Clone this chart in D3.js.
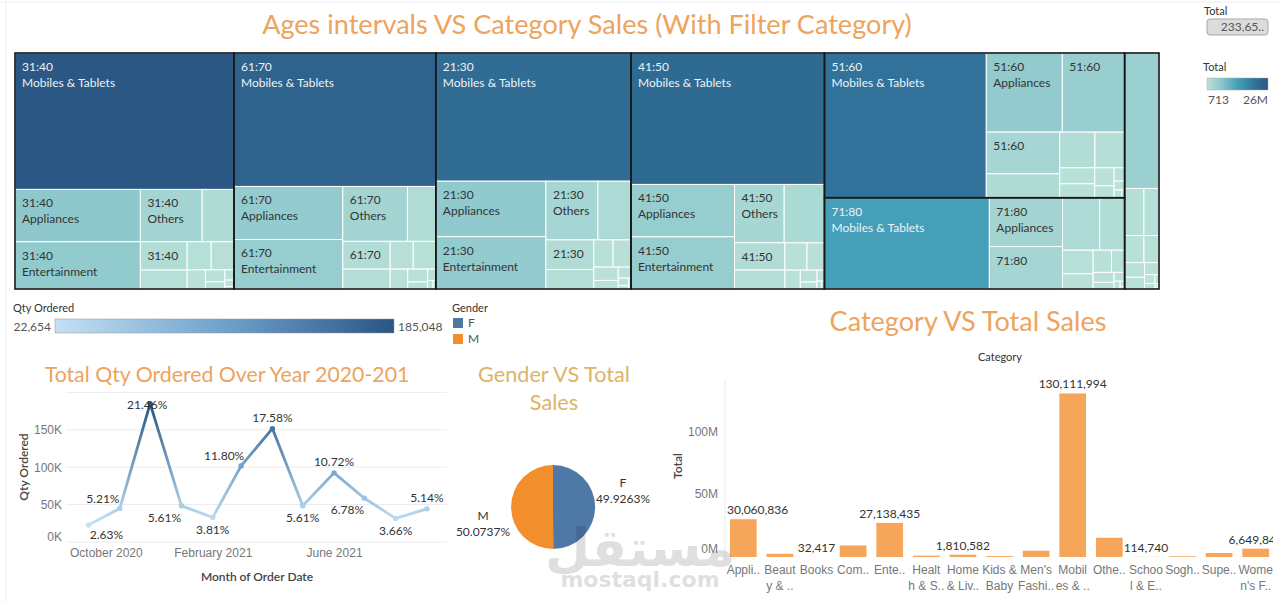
<!DOCTYPE html>
<html>
<head>
<meta charset="utf-8">
<title>Sales dashboard</title>
<script src="https://cdn.jsdelivr.net/npm/d3@7"></script>
<style>
  body { margin: 0; background: #fff; }
  svg { display: block; font-family: Lato, 'Open Sans', sans-serif; }
</style>
</head>
<body>
<svg id="dash" width="1280" height="602"></svg>
<script>
// ---- data ----
const categories = ['Appliances', 'Beauty & Grooming', 'Books', 'Computing', 'Entertainment',
  'Health & Sports', 'Home & Living', 'Kids & Baby', "Men's Fashion", 'Mobiles & Tablets',
  'Others', 'School & Education', 'Soghaat', 'Superstore', "Women's Fashion"];

const ageGroups = ['31:40', '61:70', '21:30', '41:50', '51:60', '71:80', '11:20'];

// treemap sales per age group (millions), same order as categories
const sales3140 = [5.64, 0.55, 0.02, 1.43, 5.09, 0.20, 0.30, 0.12, 0.76, 25.67, 2.78, 0.05, 0.08, 0.58, 1.14];
const sales6170 = [4.96, 0.54, 0.02, 1.34, 4.63, 0.22, 0.30, 0.12, 0.81, 23.15, 3.05, 0.04, 0.08, 0.55, 1.13];
const sales2130 = [5.25, 0.42, 0.02, 1.67, 4.95, 0.18, 0.28, 0.12, 0.80, 21.50, 2.62, 0.03, 0.07, 0.45, 1.22];
const sales4150 = [4.66, 0.41, 0.02, 2.02, 4.64, 0.17, 0.25, 0.10, 0.82, 21.85, 2.49, 0.03, 0.07, 0.52, 1.18];
const sales5160 = [5.17, 0.42, 0.02, 1.51, 4.24, 0.20, 0.30, 0.12, 0.91, 20.13, 2.63, 0.05, 0.08, 0.48, 1.08];
const sales7180 = [3.07, 0.25, 0.01, 1.13, 2.67, 0.12, 0.18, 0.08, 0.40, 12.93, 1.67, 0.02, 0.04, 0.35, 0.62];
const sales1120 = [0.78, 0.08, 0.000713, 0.35, 0.61, 0.03, 0.05, 0.01, 0.20, 4.00, 0.45, 0.005, 0.003, 0.15, 0.25];
const ageSales = [sales3140, sales6170, sales2130, sales4150, sales5160, sales7180, sales1120];

// monthly qty ordered
const months = ['2020-10', '2020-11', '2020-12', '2021-01', '2021-02', '2021-03',
  '2021-04', '2021-05', '2021-06', '2021-07', '2021-08', '2021-09'];
const qtyOrdered = [22654, 44926, 185048, 48375, 32854, 101751, 151592, 48375, 92438, 58464, 31560, 44322];
const qtyLabelSpot = ['br', 'tl', 'c', 'bl', 'b', 'tl', 't', 'b', 't', 'bl', 'b', 't'];
const monthTicks = ['2020-10', '2021-02', '2021-06'];

// gender split
const genders = ['F', 'M'];
const genderSales = [116652800, 116997200];

// category totals
const categoryTotals = [30060836, 2600000, 32417, 9200000, 27138435, 1060000, 1810582, 750000,
  5000000, 130111994, 15330000, 114740, 600000, 3200000, 6649842];
const categoryTicks = [['Appli..'], ['Beaut', 'y & ..'], ['Books'], ['Com..'], ['Ente..'],
  ['Healt', 'h & S..'], ['Home', '& Liv..'], ['Kids &', 'Baby'], ["Men's", 'Fashi..'],
  ['Mobil', 'es & ..'], ['Othe..'], ['Schoo', 'l & E..'], ['Sogh..'], ['Supe..'], ['Wome', "n's F.."]];
const labelledBars = ['Appliances', 'Books', 'Entertainment', 'Home & Living',
  'Mobiles & Tablets', 'School & Education', "Women's Fashion"];

// ---- colours ----
const titleOrange = '#eea35e';
const titleGold = '#dcb468';
const treeColors = ['#bbe2d8', '#8ec8cd', '#45a0b8', '#32739a', '#2a5783'];
const treeStops = [0, 0.22, 0.5, 0.78, 1];
const qtyColors = ['#c4e1f3', '#6fa1cb', '#2b5583'];
const genderColors = ['#4e79a7', '#f28e2b'];
const barColor = '#f5a65b';

const svg = d3.select('#dash');
const defs = svg.append('defs');

const measurer = svg.append('text').attr('font-size', 12).attr('visibility', 'hidden');
function textWidth(s) {
  measurer.text(s);
  return measurer.node().getComputedTextLength();
}

function addText(g, txt, x, y, opts = {}) {
  return g.append('text')
    .attr('x', x).attr('y', y)
    .attr('font-size', opts.size || 12)
    .attr('fill', opts.color || '#333')
    .attr('text-anchor', opts.anchor || 'start')
    .attr('font-weight', opts.weight || 400)
    .text(txt);
}

// centred title scaled to a given width, returns the font size used
function addTitle(txt, cx, y, width, color, size) {
  const t = addText(svg, txt, cx, y, { size: 20, color, anchor: 'middle' });
  const fs = size || 20 * width / t.node().getComputedTextLength();
  t.attr('font-size', fs);
  return fs;
}

// ================= treemap =================
addTitle('Ages intervals VS Category Sales (With Filter Category)', 587, 34, 650, titleOrange);

const tm = { left: 15, top: 53, width: 1144, height: 236 };

const root = d3.hierarchy({
  children: ageGroups.map((age, i) => ({
    age,
    children: categories.map((cat, j) => ({ age, cat, value: ageSales[i][j] }))
  }))
})
  .sum(d => d.value || 0)
  .sort((a, b) => b.value - a.value);

d3.treemap().size([tm.width, tm.height]).tile(d3.treemapSquarify)(root);

const leafValues = root.leaves().map(d => d.value);
const [tMin, tMax] = d3.extent(leafValues);
const treeColor = d3.scaleLinear()
  .domain(treeStops.map(t => tMin + t * (tMax - tMin)))
  .range(treeColors);

const tg = svg.append('g').attr('transform', `translate(${tm.left},${tm.top})`);

tg.selectAll('rect.cell')
  .data(root.leaves())
  .join('rect')
  .attr('class', 'cell')
  .attr('x', d => d.x0)
  .attr('y', d => d.y0)
  .attr('width', d => d.x1 - d.x0)
  .attr('height', d => d.y1 - d.y0)
  .attr('fill', d => treeColor(d.value))
  .attr('stroke', '#fff')
  .attr('stroke-width', 1);

tg.selectAll('rect.group')
  .data(root.children)
  .join('rect')
  .attr('class', 'group')
  .attr('x', d => d.x0)
  .attr('y', d => d.y0)
  .attr('width', d => d.x1 - d.x0)
  .attr('height', d => d.y1 - d.y0)
  .attr('fill', 'none')
  .attr('stroke', '#161616')
  .attr('stroke-width', 1.6);

// cell labels, only where they fit
root.leaves().forEach(d => {
  const w = d.x1 - d.x0, h = d.y1 - d.y0;
  if (h < 26 || textWidth(d.data.age) + 14 > w) return;
  const lines = [d.data.age];
  if (h >= 46 && textWidth(d.data.cat) + 10 <= w) lines.push(d.data.cat);
  const col = d.value > 10 ? '#edf2f6' : '#333';
  lines.forEach((ln, k) => {
    addText(tg, ln, d.x0 + 7, d.y0 + 18 + k * 16, { size: 12, color: col });
  });
});

// top-right filter + colour legend
const totalSales = d3.sum(categoryTotals);
addText(svg, 'Total', 1204, 15, { size: 11 });
svg.append('rect')
  .attr('x', 1207).attr('y', 19).attr('width', 61).attr('height', 16).attr('rx', 3)
  .attr('fill', '#dcdcdc').attr('stroke', '#a8a8a8');
addText(svg, d3.format(',')(totalSales).slice(0, 6) + '..', 1264, 31,
  { size: 12, color: '#555', anchor: 'end' });

const tGrad = defs.append('linearGradient').attr('id', 'treeGrad');
treeStops.forEach((t, i) => {
  tGrad.append('stop').attr('offset', t).attr('stop-color', treeColors[i]);
});
addText(svg, 'Total', 1203, 71, { size: 11 });
svg.append('rect')
  .attr('x', 1207).attr('y', 78).attr('width', 61).attr('height', 12)
  .attr('fill', 'url(#treeGrad)').attr('stroke', '#aaa').attr('stroke-width', 0.5);
addText(svg, d3.format(',')(Math.round(tMin * 1e6)), 1208, 104, { size: 12, color: '#555' });
addText(svg, d3.format('.2~s')(tMax * 1e6), 1268, 104, { size: 12, color: '#555', anchor: 'end' });

// ================= legends row =================
const [qMin, qMax] = d3.extent(qtyOrdered);
const qtyColor = d3.scaleLinear()
  .domain([qMin, (qMin + qMax) / 2, qMax])
  .range(qtyColors);

addText(svg, 'Qty Ordered', 13, 312, { size: 11 });
const qGrad = defs.append('linearGradient').attr('id', 'qtyGrad');
qtyColors.forEach((c, i) => {
  qGrad.append('stop').attr('offset', i / (qtyColors.length - 1)).attr('stop-color', c);
});
svg.append('rect')
  .attr('x', 55).attr('y', 319).attr('width', 339).attr('height', 14)
  .attr('fill', 'url(#qtyGrad)').attr('stroke', '#999').attr('stroke-width', 0.5);
addText(svg, d3.format(',')(qMin), 51, 331, { size: 12, color: '#555', anchor: 'end' });
addText(svg, d3.format(',')(qMax), 398, 331, { size: 12, color: '#555' });

addText(svg, 'Gender', 452, 312, { size: 11 });
genders.forEach((gname, i) => {
  svg.append('rect')
    .attr('x', 453).attr('y', 318 + i * 16).attr('width', 10).attr('height', 10)
    .attr('fill', genderColors[i]);
  addText(svg, gname, 468, 327 + i * 16, { size: 12, color: '#555' });
});

// ================= line chart =================
addTitle('Total Qty Ordered Over Year 2020-201', 227, 382, 365, titleOrange);

const parseMonth = d3.timeParse('%Y-%m');
const monthDates = months.map(parseMonth);
const xL = d3.scaleTime().domain(d3.extent(monthDates)).range([88.5, 427]);
const yL = d3.scaleLinear().domain([0, 200000]).range([542, 392.4]);

const lg = svg.append('g');
lg.selectAll('line.grid')
  .data(yL.ticks(4))
  .join('line')
  .attr('x1', 66).attr('x2', 447)
  .attr('y1', d => yL(d)).attr('y2', d => yL(d))
  .attr('stroke', '#ececec');

const yAxisL = lg.append('g')
  .attr('transform', 'translate(66,0)')
  .call(d3.axisLeft(yL).tickValues([0, 50000, 100000, 150000])
    .tickFormat(d => (d / 1000) + 'K').tickSize(0).tickPadding(4));
yAxisL.select('.domain').remove();
yAxisL.selectAll('text').attr('font-size', 12).attr('fill', '#777').attr('font-family', null)
  .attr('dy', d => d === 0 ? '-0.15em' : '0.32em');

const xAxisL = lg.append('g')
  .attr('transform', 'translate(0,542)')
  .call(d3.axisBottom(xL).tickValues(monthTicks.map(parseMonth))
    .tickFormat(d3.timeFormat('%B %Y')).tickSize(0).tickPadding(6));
xAxisL.select('.domain').remove();
xAxisL.selectAll('text').attr('font-size', 12).attr('fill', '#777').attr('font-family', null);
// keep the first label inside the pane, as Tableau does
xAxisL.selectAll('.tick').each(function () {
  const tick = d3.select(this);
  const txt = tick.select('text');
  const tx = +tick.attr('transform').match(/translate\(([-\d.]+)/)[1];
  const half = txt.node().getComputedTextLength() / 2;
  if (tx - half < 70) txt.attr('text-anchor', 'start').attr('x', 70 - tx);
});

addText(lg, 'Month of Order Date', 257, 581, { size: 12, color: '#444', anchor: 'middle', weight: 600 });
lg.append('text')
  .attr('transform', 'translate(28,467) rotate(-90)')
  .attr('text-anchor', 'middle').attr('font-size', 12).attr('fill', '#444').attr('font-weight', 600)
  .text('Qty Ordered');

// segments coloured by qty, gradient from one month to the next
const pts = qtyOrdered.map((v, i) => ({ v, x: xL(monthDates[i]), y: yL(v) }));
for (let i = 0; i < pts.length - 1; i++) {
  const a = pts[i], b = pts[i + 1];
  const gr = defs.append('linearGradient')
    .attr('id', 'seg' + i).attr('gradientUnits', 'userSpaceOnUse')
    .attr('x1', a.x).attr('y1', a.y).attr('x2', b.x).attr('y2', b.y);
  gr.append('stop').attr('offset', 0).attr('stop-color', qtyColor(a.v));
  gr.append('stop').attr('offset', 1).attr('stop-color', qtyColor(b.v));
  lg.append('line')
    .attr('x1', a.x).attr('y1', a.y).attr('x2', b.x).attr('y2', b.y)
    .attr('stroke', `url(#seg${i})`).attr('stroke-width', 2.8).attr('stroke-linecap', 'round');
}
lg.selectAll('circle')
  .data(pts)
  .join('circle')
  .attr('cx', d => d.x).attr('cy', d => d.y).attr('r', 2.7)
  .attr('fill', d => qtyColor(d.v));

const qtyTotal = d3.sum(qtyOrdered);
const spotOffset = {
  br: [18, 10], tl: [-17, -10], c: [-3, 1], bl: [-17, 12], b: [0, 12], t: [0, -11]
};
pts.forEach((p, i) => {
  const off = spotOffset[qtyLabelSpot[i]];
  addText(lg, d3.format('.2%')(p.v / qtyTotal), p.x + off[0], p.y + off[1], { size: 12, anchor: 'middle' })
    .attr('dy', '0.35em');
});

// ================= pie =================
const gSize = addTitle('Gender VS Total', 554, 382, 152, titleGold);
addTitle('Sales', 554, 410, 0, titleGold, gSize);

const pieCx = 553, pieCy = 507, pieR = 42;
const pieData = d3.pie().sort(null).value(d => d)(genderSales);
const arc = d3.arc().innerRadius(0).outerRadius(pieR);
const labelArc = d3.arc().innerRadius(70).outerRadius(70);
const pg = svg.append('g').attr('transform', `translate(${pieCx},${pieCy})`);
pg.selectAll('path')
  .data(pieData)
  .join('path')
  .attr('d', arc)
  .attr('fill', (d, i) => genderColors[i]);

const genderTotal = d3.sum(genderSales);
const pieLabelShift = [-24, 9];
pieData.forEach((d, i) => {
  const [cx, cy] = labelArc.centroid(d);
  addText(pg, genders[i], cx, cy + pieLabelShift[i], { size: 12, anchor: 'middle' }).attr('dy', '0.35em');
  addText(pg, d3.format('.4%')(d.value / genderTotal), cx, cy + pieLabelShift[i] + 16,
    { size: 12, anchor: 'middle' }).attr('dy', '0.35em');
});

// ================= bar chart =================
addTitle('Category VS Total Sales', 968, 331, 277, titleOrange);
addText(svg, 'Category', 1000, 361, { size: 11, anchor: 'middle' });

const xB = d3.scaleBand().domain(categories).range([725, 1274]).paddingInner(0.27).paddingOuter(0.135);
const yB = d3.scaleLinear().domain([0, 140e6]).range([557, 381]);

defs.append('clipPath').attr('id', 'barClip')
  .append('rect').attr('x', 700).attr('y', 340).attr('width', 573).attr('height', 262);

const bg = svg.append('g').attr('clip-path', 'url(#barClip)');
bg.append('line')
  .attr('x1', 725).attr('x2', 725).attr('y1', 380).attr('y2', 557)
  .attr('stroke', '#ececec');

bg.selectAll('rect.bar')
  .data(categories)
  .join('rect')
  .attr('class', 'bar')
  .attr('x', d => xB(d))
  .attr('width', xB.bandwidth())
  .attr('y', (d, i) => yB(categoryTotals[i]))
  .attr('height', (d, i) => yB(0) - yB(categoryTotals[i]))
  .attr('fill', barColor);

categories.forEach((c, i) => {
  if (!labelledBars.includes(c)) return;
  const txt = d3.format(',')(categoryTotals[i]);
  const cx = xB(c) + xB.bandwidth() / 2;
  const half = textWidth(txt) / 2;
  // labels that would spill past the pane's left edge are nudged in
  const lx = Math.max(cx, 727 + half);
  addText(bg, txt, lx, yB(categoryTotals[i]) - 5, { size: 12, anchor: 'middle' });
});

const yAxisB = svg.append('g')
  .attr('transform', 'translate(725,0)')
  .call(d3.axisLeft(yB).tickValues([0, 50e6, 100e6]).tickFormat(d => (d / 1e6) + 'M')
    .tickSize(0).tickPadding(7));
yAxisB.select('.domain').remove();
yAxisB.selectAll('text').attr('font-size', 12).attr('fill', '#777').attr('font-family', null)
  .attr('dy', d => d === 0 ? '-0.35em' : '0.32em');

const xAxisB = svg.append('g')
  .attr('transform', 'translate(0,557)')
  .call(d3.axisBottom(xB).tickSize(0).tickPadding(8));
xAxisB.select('.domain').remove();
xAxisB.selectAll('.tick text')
  .attr('font-size', 12).attr('fill', '#777').attr('font-family', null)
  .each(function (d, i) {
    const t = d3.select(this);
    t.text(null);
    categoryTicks[i].forEach((ln, k) => {
      t.append('tspan').attr('x', 0).attr('dy', k === 0 ? '0.71em' : '1.35em').text(ln);
    });
  });

svg.append('text')
  .attr('transform', 'translate(682,466) rotate(-90)')
  .attr('text-anchor', 'middle').attr('font-size', 12).attr('fill', '#444').attr('font-weight', 600)
  .text('Total');

// ================= frame + watermark =================
svg.append('line').attr('x1', 6).attr('x2', 6).attr('y1', 0).attr('y2', 602).attr('stroke', '#eee');
svg.append('line').attr('x1', 0).attr('x2', 1280).attr('y1', 2).attr('y2', 2).attr('stroke', '#eee');

const wm = svg.append('g').attr('opacity', 0.12).attr('pointer-events', 'none');
wm.append('text')
  .attr('x', 640).attr('y', 566).attr('text-anchor', 'middle')
  .attr('font-family', 'DejaVu Sans').attr('font-weight', 700).attr('font-size', 52)
  .attr('fill', '#000').text('مستقل');
wm.append('text')
  .attr('x', 640).attr('y', 587).attr('text-anchor', 'middle')
  .attr('font-family', 'DejaVu Sans').attr('font-weight', 700).attr('font-size', 22)
  .attr('fill', '#000').text('mostaql.com');

measurer.remove();
</script>
</body>
</html>
